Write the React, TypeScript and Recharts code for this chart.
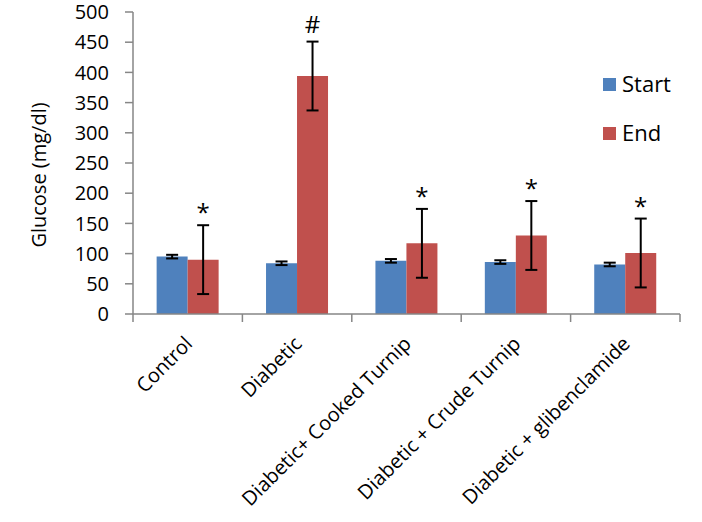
import React from 'react';
import { BarChart, Bar, XAxis, YAxis, ErrorBar, Legend, LabelList, Label } from 'recharts';

const categories = ['Control', 'Diabetic', 'Diabetic+ Cooked Turnip', 'Diabetic + Crude Turnip', 'Diabetic + glibenclamide'];
const startValues = [95, 84, 88, 86, 82];
const startErrors = [3, 3, 3, 3, 3];
const endValues = [90, 394, 117, 130, 101];
const endErrors = [57, 57, 57, 57, 57];
const marks = ['*', '#', '*', '*', '*'];
const yTicks = [0, 50, 100, 150, 200, 250, 300, 350, 400, 450, 500];

const data = categories.map((name, i) => ({
  name,
  start: startValues[i],
  startErr: startErrors[i],
  end: endValues[i],
  endErr: endErrors[i],
  mark: marks[i],
}));

const FONT = '"Open Sans", sans-serif';
const BLUE = '#4F81BD';
const RED = '#C0504D';
const AXIS = '#868686';

const XTick = (props: any) => {
  const { x, y, payload, index, width } = props;
  const band = (width || 547) / categories.length;
  const left = x - band / 2;
  const right = x + band / 2;
  const ax = x + 6;
  const ay = y + 31;
  return (
    <g>
      <line x1={left} y1={y} x2={left} y2={y + 8} stroke={AXIS} strokeWidth={1.5} />
      {index === categories.length - 1 && (
        <line x1={right} y1={y} x2={right} y2={y + 8} stroke={AXIS} strokeWidth={1.5} />
      )}
      <text
        x={ax}
        y={ay}
        textAnchor="end"
        transform={`rotate(-45, ${ax}, ${ay})`}
        fontFamily={FONT}
        fontSize={20}
        fill="#000"
      >
        {payload.value}
      </text>
    </g>
  );
};

const MarkLabel = (props: any) => {
  const { x, y, width, height, value, index } = props;
  const v = endValues[index];
  const pxPerUnit = height / v;
  const errTop = y - endErrors[index] * pxPerUnit;
  const off = value === '#' ? 9 : 4;
  return (
    <text x={x + width / 2} y={errTop - off} textAnchor="middle" fontFamily={FONT} fontSize={24} fill="#000">
      {value}
    </text>
  );
};

const LegendContent = () => (
  <svg width={100} height={84} style={{ overflow: 'visible', display: 'block' }}>
    <rect x={2} y={8} width={13} height={13} fill={BLUE} />
    <text x={21} y={22} fontFamily={FONT} fontSize={22} fill="#000">Start</text>
    <rect x={2} y={57} width={13} height={13} fill={RED} />
    <text x={21} y={71} fontFamily={FONT} fontSize={22} fill="#000">End</text>
  </svg>
);

export default function App() {
  return (
    <div style={{ position: 'absolute', left: 0, top: 0, background: '#fff' }}>
      <BarChart
        width={702}
        height={522}
        data={data}
        margin={{ top: 12, right: 22, left: 0, bottom: 0 }}
        barCategoryGap="21.6%"
        barGap={0}
      >
        <XAxis
          dataKey="name"
          height={208}
          interval={0}
          tickSize={0}
          tickMargin={0}
          tickLine={false}
          axisLine={{ stroke: AXIS, strokeWidth: 1.5 }}
          tick={<XTick />}
        />
        <YAxis
          width={133}
          domain={[0, 500]}
          ticks={yTicks}
          interval={0}
          tickSize={8}
          tickMargin={16}
          axisLine={{ stroke: AXIS, strokeWidth: 1.5 }}
          tickLine={{ stroke: AXIS, strokeWidth: 1.5 }}
          tick={{ fontFamily: FONT, fontSize: 20, fill: '#000' }}
        >
          <Label
            content={() => (
              <text
                x={46}
                y={175}
                textAnchor="middle"
                transform="rotate(-90, 46, 175)"
                fontFamily={FONT}
                fontSize={20}
                fill="#000"
              >
                Glucose (mg/dl)
              </text>
            )}
          />
        </YAxis>
        <Legend
          layout="vertical"
          align="center"
          verticalAlign="middle"
          wrapperStyle={{ position: 'absolute', left: 601, top: 70, width: 100, height: 84 }}
          content={<LegendContent />}
        />
        <Bar dataKey="start" fill={BLUE} isAnimationActive={false}>
          <ErrorBar dataKey="startErr" width={6} stroke="#000" strokeWidth={2} direction="y" />
        </Bar>
        <Bar dataKey="end" fill={RED} isAnimationActive={false}>
          <ErrorBar dataKey="endErr" width={6} stroke="#000" strokeWidth={2} direction="y" />
          <LabelList dataKey="mark" content={<MarkLabel />} />
        </Bar>
      </BarChart>
    </div>
  );
}
